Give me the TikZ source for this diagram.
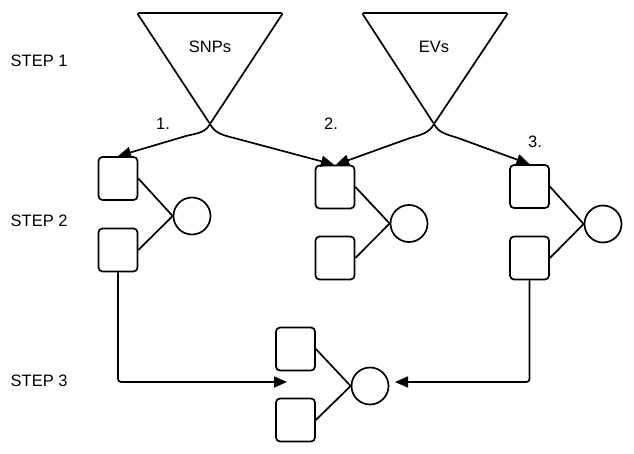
\documentclass[tikz,border=0pt]{standalone}
\usepackage{fontspec}
\setmainfont{Liberation Sans}
\usetikzlibrary{arrows.meta}
\begin{document}
\begin{tikzpicture}[x=1pt,y=-1pt,
  ln/.style={line width=1.7pt, line join=round},
  box/.style={ln, draw, rounded corners=4pt, minimum width=39pt, minimum height=43pt, inner sep=0pt},
  circ/.style={ln, draw, circle, minimum size=37pt, inner sep=0pt},
  arr/.style={ln, -{Triangle[length=13pt,width=11pt]}},
  lbl/.style={font=\fontsize{16.5}{19}\selectfont, inner sep=0pt},
  tri/.style={ln, rounded corners=1.5pt}]
\useasboundingbox (0,0) rectangle (634,454);

% labels
\node[lbl, anchor=west] (s1) at (10.5,61) {STEP 1};
\node[lbl, anchor=west] (s2) at (10.5,221) {STEP 2};
\node[lbl, anchor=west] (s3) at (10.5,381) {STEP 3};

% triangles
\draw[tri] (137,13) -- (283,13) -- (210,124) -- cycle;
\draw[tri] (362,13) -- (508,13) -- (434,124) -- cycle;
\coordinate (snpapex) at (210,124);
\coordinate (evapex) at (434,124);
\node[lbl] (snp) at (210,47) {SNPs};
\node[lbl] (ev) at (434,47) {EVs};

\node[lbl] (n1) at (163,124) {1.};
\node[lbl] (n2) at (331,124) {2.};
\node[lbl] (n3) at (535,142) {3.};

% step 2 groups
\node[box] (r1a) at (118,178.5) {};
\node[box] (r1b) at (118,250) {};
\node[circ] (c1) at (192,216) {};
\draw[ln] (r1a.east) -- (c1.west) -- (r1b.east);

\node[box] (r2a) at (335,187) {};
\node[box] (r2b) at (335,258) {};
\node[circ] (c2) at (409,223.5) {};
\draw[ln] (r2a.east) -- (c2.west) -- (r2b.east);

\node[box] (r3a) at (529.5,186.5) {};
\node[box] (r3b) at (529.5,258) {};
\node[circ] (c3) at (603,224) {};
\draw[ln] (r3a.east) -- (c3.west) -- (r3b.east);

% step 3 group
\node[box] (r4a) at (295.5,349) {};
\node[box] (r4b) at (295.5,420) {};
\node[circ] (c4) at (370,386) {};
\draw[ln] (r4a.east) -- (c4.west) -- (r4b.east);

% curved arrows
\draw[arr] (snpapex) .. controls (205,133) and (198,133) .. (186,136) -- (r1a.north);
\draw[arr] (snpapex) .. controls (215,133) and (222,135) .. (234,138) -- ([xshift=-1pt]r2a.north);
\draw[arr] (evapex) .. controls (429,133) and (422,134.5) .. (410,138) -- ([xshift=1pt]r2a.north);
\draw[arr] (evapex) .. controls (439,133) and (446,134.2) .. (458,138) -- (r3a.north);

% step 3 arrows
\coordinate (lt) at (287,382);
\coordinate (rt) at (395,382);
\draw[arr, rounded corners=3pt] (r1b.south) |- (lt);
\draw[arr, rounded corners=3pt] (r3b.south) |- (rt);
\end{tikzpicture}
\end{document}
